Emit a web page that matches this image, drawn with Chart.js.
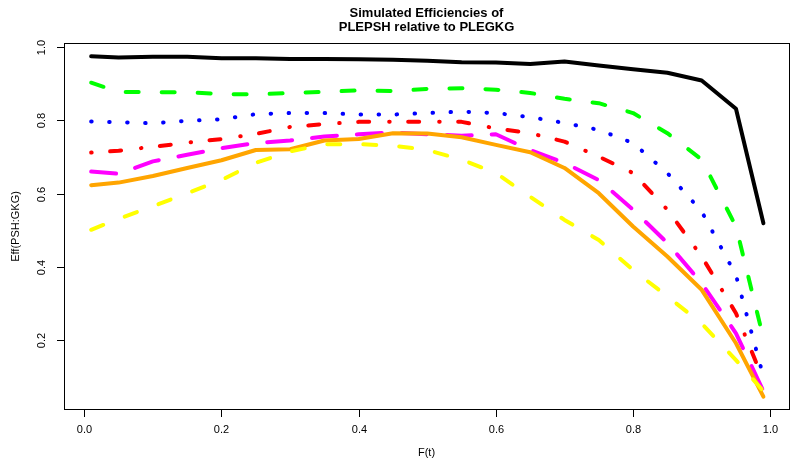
<!DOCTYPE html>
<html>
<head>
<meta charset="utf-8">
<script src="https://cdn.jsdelivr.net/npm/chart.js@4.4.1/dist/chart.umd.min.js"></script>
<style>
  html, body { margin: 0; padding: 0; background: #fff; }
  canvas { display: block; }
</style>
</head>
<body>
<canvas id="effChart" width="790" height="460"></canvas>
<script>
// F(t) values on the x axis
const fValues = [0.01, 0.05, 0.10, 0.15, 0.20, 0.25, 0.30, 0.35, 0.40, 0.45, 0.50,
                 0.55, 0.60, 0.65, 0.70, 0.75, 0.80, 0.85, 0.90, 0.95, 0.99];

// efficiency curves
const effBlack   = [0.975, 0.972, 0.974, 0.974, 0.970, 0.970, 0.968, 0.968, 0.967, 0.966, 0.963,
                    0.959, 0.958, 0.954, 0.961, 0.950, 0.940, 0.930, 0.909, 0.832, 0.519];
const effGreen   = [0.903, 0.878, 0.877, 0.877, 0.872, 0.871, 0.875, 0.878, 0.882, 0.880, 0.886,
                    0.888, 0.884, 0.875, 0.859, 0.847, 0.820, 0.765, 0.693, 0.510, 0.205];
const effBlue    = [0.797, 0.795, 0.792, 0.799, 0.803, 0.817, 0.820, 0.820, 0.816, 0.816, 0.820,
                    0.824, 0.820, 0.809, 0.793, 0.774, 0.738, 0.656, 0.551, 0.377, 0.100];
const effRed     = [0.712, 0.717, 0.728, 0.739, 0.749, 0.763, 0.782, 0.790, 0.796, 0.796, 0.796,
                    0.796, 0.778, 0.765, 0.742, 0.701, 0.656, 0.556, 0.428, 0.273, 0.090];
const effMagenta = [0.660, 0.654, 0.688, 0.706, 0.724, 0.738, 0.745, 0.756, 0.762, 0.767, 0.762,
                    0.758, 0.762, 0.719, 0.684, 0.637, 0.556, 0.465, 0.355, 0.218, 0.060];
const effOrange  = [0.623, 0.630, 0.648, 0.670, 0.691, 0.719, 0.721, 0.745, 0.749, 0.765, 0.764,
                    0.754, 0.733, 0.713, 0.670, 0.601, 0.510, 0.428, 0.337, 0.191, 0.045];
const effYellow  = [0.501, 0.531, 0.565, 0.601, 0.637, 0.684, 0.715, 0.735, 0.735, 0.731, 0.719,
                    0.693, 0.656, 0.591, 0.528, 0.473, 0.391, 0.319, 0.245, 0.145, 0.060];

// axis ticks
const xTicks = [0.0, 0.2, 0.4, 0.6, 0.8, 1.0];
const yTicks = [0.2, 0.4, 0.6, 0.8, 1.0];

const titleLines = ['Simulated Efficiencies of', 'PLEPSH relative to PLEGKG'];
const xTitle = 'F(t)';
const yTitle = 'Eff(PSH:GKG)';

function toPoints(ys) {
    return fValues.map((f, i) => ({ x: f, y: ys[i] }));
}

function makeSet(ys, color, dash) {
    return {
        data: toPoints(ys),
        borderColor: color,
        borderWidth: 4,
        borderDash: dash,
        borderCapStyle: 'round',
        borderJoinStyle: 'round',
        pointRadius: 0,
        tension: 0,
        fill: false
    };
}

// R style box, ticks and labels, drawn with the chart's own scales
const rAxes = {
    id: 'rAxes',
    beforeDatasetsDraw(chart) {
        const ctx = chart.ctx;
        const a = chart.chartArea;
        ctx.save();
        ctx.strokeStyle = '#000';
        ctx.lineWidth = 1;
        ctx.strokeRect(a.left + 0.5, a.top + 0.5, a.right - a.left, a.bottom - a.top - 1);
        ctx.restore();
    },
    afterDraw(chart) {
        const ctx = chart.ctx;
        const a = chart.chartArea;
        const xs = chart.scales.x;
        const ys = chart.scales.y;
        ctx.save();
        ctx.strokeStyle = '#000';
        ctx.fillStyle = '#000';
        ctx.lineWidth = 1;

        // x axis
        ctx.font = '11px "Liberation Sans", Arial, sans-serif';
        ctx.textAlign = 'center';
        ctx.textBaseline = 'alphabetic';
        xTicks.forEach(t => {
            const px = Math.round(xs.getPixelForValue(t)) + 0.5;
            ctx.beginPath();
            ctx.moveTo(px, a.bottom);
            ctx.lineTo(px, a.bottom + 7);
            ctx.stroke();
            ctx.fillText(t.toFixed(1), px, a.bottom + 23);
        });

        // y axis, labels parallel to the axis
        yTicks.forEach(t => {
            const py = Math.round(ys.getPixelForValue(t)) + 0.5;
            ctx.beginPath();
            ctx.moveTo(a.left, py);
            ctx.lineTo(a.left - 7, py);
            ctx.stroke();
            ctx.save();
            ctx.translate(a.left - 19.5, py);
            ctx.rotate(-Math.PI / 2);
            ctx.fillText(t.toFixed(1), 0, 0);
            ctx.restore();
        });

        // axis titles
        ctx.fillText(xTitle, (a.left + a.right) / 2, 456);
        ctx.save();
        ctx.translate(19, (a.top + a.bottom) / 2);
        ctx.rotate(-Math.PI / 2);
        ctx.fillText(yTitle, 0, 0);
        ctx.restore();

        // main title
        ctx.font = 'bold 13px "Liberation Sans", Arial, sans-serif';
        ctx.fillText(titleLines[0], (a.left + a.right) / 2, 16.5);
        ctx.fillText(titleLines[1], (a.left + a.right) / 2, 31);
        ctx.restore();
    }
};

document.addEventListener("DOMContentLoaded", function () {
    // R draws later lines on top, Chart.js draws the first dataset on top
    const sets = [
        makeSet(effBlack, '#000000', []),
        makeSet(effGreen, '#00ff00', [13, 23]),
        makeSet(effBlue, '#0000ff', [0.5, 17.5]),
        makeSet(effRed, '#ff0000', [0.5, 18.5, 11, 20]),
        makeSet(effMagenta, '#ff00ff', [25, 20]),
        makeSet(effOrange, '#ffa500', []),
        makeSet(effYellow, '#ffff00', [13, 23])
    ].reverse();

    const ctx = document.getElementById('effChart').getContext('2d');
    new Chart(ctx, {
        type: 'line',
        data: { datasets: sets },
        options: {
            responsive: false,
            animation: false,
            devicePixelRatio: 1,
            layout: { padding: { left: 64, right: 1, top: 43, bottom: 50 } },
            plugins: {
                legend: { display: false },
                tooltip: { enabled: false },
                title: { display: false }
            },
            scales: {
                x: { type: 'linear', min: -0.0296, max: 1.0273, display: false },
                y: { type: 'linear', min: 0.0085, max: 1.0115, display: false }
            }
        },
        plugins: [rAxes]
    });
});
</script>
</body>
</html>
